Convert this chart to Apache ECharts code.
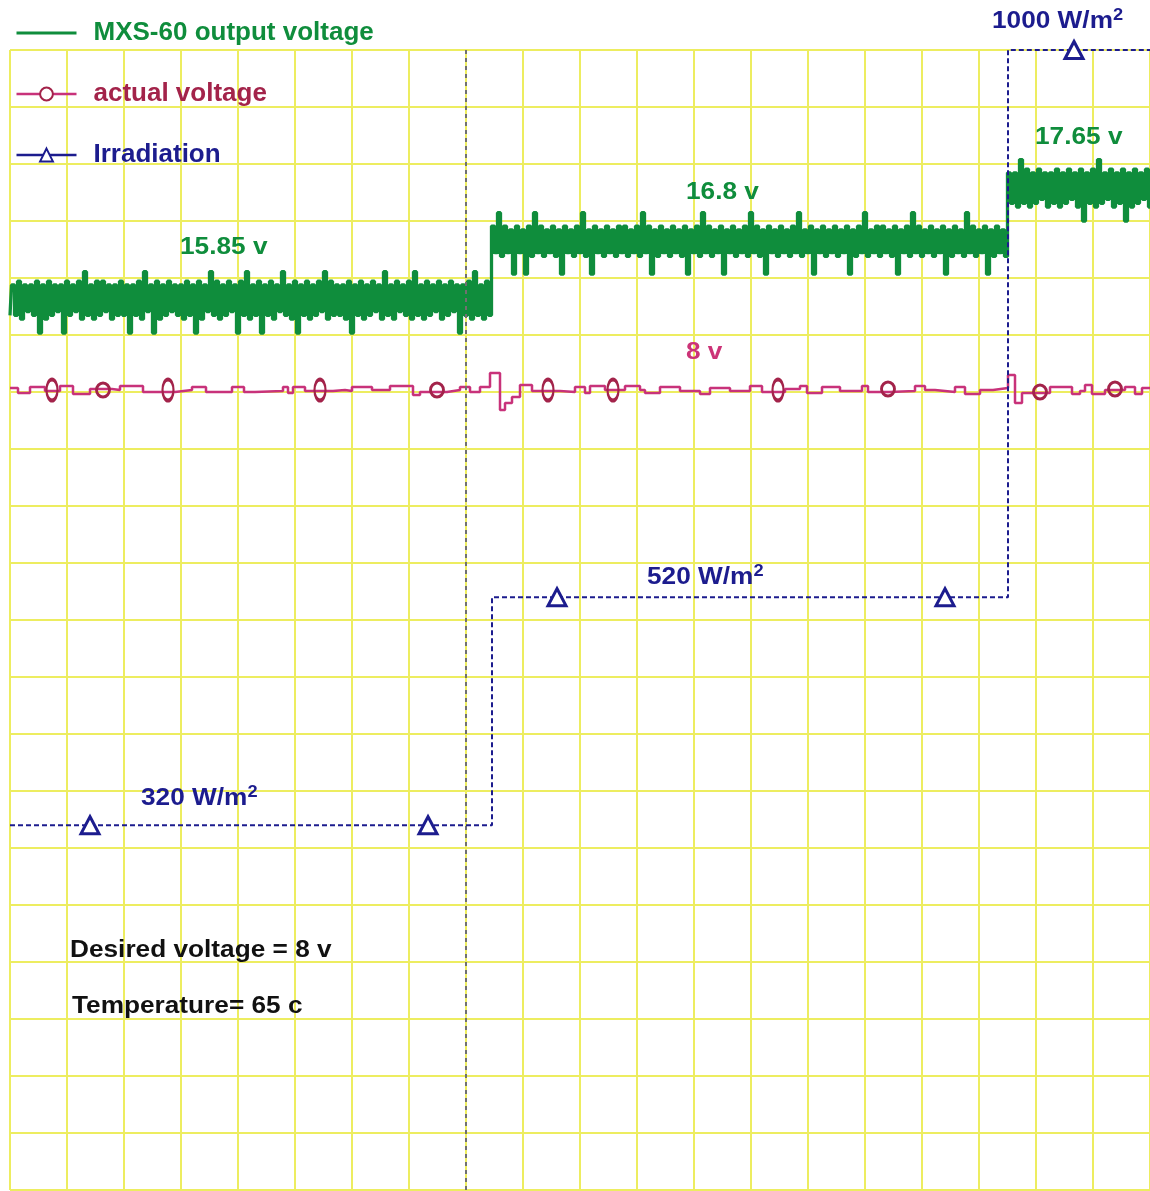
<!DOCTYPE html>
<html>
<head>
<meta charset="utf-8">
<script src="https://cdn.jsdelivr.net/npm/echarts@6/dist/echarts.min.js"></script>
<style>
html,body{margin:0;padding:0;background:#fff;}
#chart{width:1150px;height:1191px;}
</style>
</head>
<body>
<div id="chart"></div>
<script>
// ---------- data (x in screen-time units: 57 units per division, 20 divisions) ----------
const SERIES_NAMES = ['MXS-60 output voltage', 'actual voltage', 'Irradiation'];

// MXS-60 output voltage: three plateau levels (V) and where they change
const GREEN_LEVELS = [15.85, 16.78, 17.62];
const GREEN_CHANGE_X = [482, 998];
const GREEN_SAMPLE_STEP = 3;
// hand-read noise around each plateau, one char per sample (low/high alternating, D/U = spikes)
const GREEN_NOISE_CODES = { a: -0.30, b: -0.24, c: -0.18, x: 0.18, y: 0.24, z: 0.30, D: -0.52, U: 0.45 };
const GREEN_NOISE =
  'bybzaycybz' + 'DyazbycyDz' + 'byczaUbyaz' + 'bzcyaybzby' + 'DybzaUcyDz' +
  'aybzcybyaz' + 'byDzaycUbz' + 'aybzcyDzbU' + 'aybzDybzay' + 'cUbyazDybz' +
  'aybzcUazby' + 'byazDybzay' + 'bzcyaUbyaz' + 'cybzaUbyaz' + 'byczaybzcy' +
  'DybzaUbyaz' + 'bycUbycxDy' + 'cxDybUcybx' + 'cybxDycxby' + 'cUbxDycxby' +
  'cxbycybxcy' + 'bUcyDxbycx' + 'bycxbyDxcy' + 'bUcybxcyDx' + 'cybxcybUcy' +
  'bxDycxbycx' + 'bycUbxcyDx' + 'cybxcybxcy' + 'DxbycUbxcy' + 'bycxbyDxcy' +
  'bUcybxcybx' + 'cyDxbycxbU' + 'cybxcyDxby' + 'cxbybyaUbz' + 'aybzcyaybz' +
  'aybzcyazDy' + 'bzaUbyczay' + 'bzDyazbycz' + 'a';

// actual voltage (V): step trace [x, V]
const RED_TRACE = [
  [0, 8.02], [8, 7.97], [20, 8.03], [35, 7.99], [50, 8.04], [63, 7.96], [80, 8.01], [102, 8.0],
  [110, 8.04], [133, 7.98], [165, 8.0], [182, 8.03], [196, 7.98], [222, 8.03], [234, 7.98],
  [245, 7.99], [273, 8.03], [278, 7.97], [283, 8.03], [295, 7.99], [323, 8.0], [335, 7.99],
  [342, 8.03], [362, 8.0], [380, 8.04], [403, 7.95], [410, 7.98], [437, 8.0], [450, 8.03],
  [460, 7.98], [470, 8.03], [480, 8.17], [490, 7.80], [495, 7.87], [502, 7.93], [510, 8.05],
  [522, 7.99], [550, 7.98], [565, 8.03], [575, 7.97], [580, 8.04], [595, 8.0], [615, 8.04],
  [630, 8.0], [635, 7.97], [650, 8.03], [670, 7.99], [690, 7.96], [700, 8.02], [720, 7.99],
  [740, 8.04], [752, 7.98], [775, 8.01], [790, 8.04], [797, 7.97], [812, 8.03], [830, 7.99],
  [852, 8.04], [858, 7.98], [880, 7.99], [905, 8.04], [915, 8.0], [925, 7.98], [945, 8.03],
  [955, 7.96], [970, 8.0], [983, 8.02], [998, 8.15], [1005, 7.87], [1012, 7.97], [1040, 8.03],
  [1062, 7.96], [1070, 7.99], [1075, 8.05], [1082, 7.96], [1095, 8.0], [1115, 8.03],
  [1125, 7.96], [1132, 8.02], [1140, 8.02]
];
// marker positions on the actual-voltage trace: [x, V, tall?]
const RED_MARKERS = [
  [42, 8.0, 1], [93, 8.0, 0], [158, 8.0, 1], [310, 8.0, 1], [427, 8.0, 0], [538, 8.0, 1],
  [603, 8.0, 1], [768, 8.0, 1], [878, 8.01, 0], [1030, 7.98, 0], [1105, 8.01, 0]
];

// Irradiation (W/m^2): level changes and triangle marker points
const IRR_STEPS = [[0, 320], [482, 520], [998, 1000], [1140, 1000]];
const IRR_MARKERS = [[80, 320], [418, 320], [547, 520], [935, 520], [1064, 1000]];

// reference (trigger) line
const TRIGGER_X = 456;

// ---------- build series data ----------
const greenData = [];
for (let i = 0; i < GREEN_NOISE.length; i++) {
  const x = i * GREEN_SAMPLE_STEP;
  let lvl = GREEN_LEVELS[0];
  if (x >= GREEN_CHANGE_X[0]) lvl = GREEN_LEVELS[1];
  if (x >= GREEN_CHANGE_X[1]) lvl = GREEN_LEVELS[2];
  greenData.push([x, +(lvl + GREEN_NOISE_CODES[GREEN_NOISE[i]]).toFixed(3)]);
}

const redMarkerData = RED_MARKERS.map(m => ({ value: [m[0], m[1]], symbolSize: m[2] ? [11, 21] : [13, 14] }));

const irrAll = IRR_STEPS.map(p => ({ value: p, symbol: 'none' }))
  .concat(IRR_MARKERS.map(p => ({ value: p })))
  .sort((a, b) => a.value[0] - b.value[0]);

// ---------- colours ----------
const GREEN = '#0f8d3c';
const RED = '#c8327a';
const RED_DARK = '#a3234a';
const NAVY = '#1c1c8e';
const GRID_YELLOW = '#eded60';

const chart = echarts.init(document.getElementById('chart'), null, { renderer: 'canvas' });

const FONT = 'Liberation Sans, Arial, sans-serif';
function label(text, x, y, color, sup) {
  const t = sup ? text + '{s|' + sup + '}' : text;
  return {
    type: 'text', x: x, y: y, scaleX: 1.14, z: 100,
    style: {
      text: t, fill: color, font: 'bold 23px ' + FONT, verticalAlign: 'middle', align: 'left',
      rich: { s: { fill: color, fontSize: 16, fontWeight: 'bold', fontFamily: FONT, verticalAlign: 'top', lineHeight: 28 } }
    }
  };
}

chart.setOption({
  animation: false,
  backgroundColor: '#ffffff',
  grid: { left: 10, top: 50, width: 1140, height: 1140, containLabel: false },
  legend: {
    orient: 'vertical', left: 10, top: 15, itemWidth: 60, itemHeight: 16, itemGap: 35,
    selectedMode: false,
    textStyle: { fontSize: 26, fontWeight: 'bold', fontFamily: FONT, padding: [0, 0, 0, 12] },
    data: [
      { name: SERIES_NAMES[0], textStyle: { color: GREEN }, itemStyle: { opacity: 0 }, lineStyle: { width: 3 } },
      { name: SERIES_NAMES[1], textStyle: { color: RED_DARK }, lineStyle: { width: 2.5 } },
      { name: SERIES_NAMES[2], textStyle: { color: NAVY }, lineStyle: { type: 'solid', width: 2.5 } }
    ]
  },
  xAxis: {
    type: 'value', min: 0, max: 1140, interval: 57,
    axisLine: { show: false }, axisTick: { show: false }, axisLabel: { show: false },
    splitLine: { show: true, lineStyle: { color: GRID_YELLOW, width: 2 } }
  },
  yAxis: [
    { type: 'value', min: 0, max: 1000, interval: 50,
      axisLine: { show: false }, axisTick: { show: false }, axisLabel: { show: false },
      splitLine: { show: true, lineStyle: { color: GRID_YELLOW, width: 2 } } },
    { type: 'value', min: 1.8, max: 19.8, show: false, splitLine: { show: false } },
    { type: 'value', min: 0, max: 11.4, show: false, splitLine: { show: false } }
  ],
  series: [
    {
      name: SERIES_NAMES[0], type: 'line', yAxisIndex: 1, data: greenData, step: 'middle',
      symbol: 'none', lineStyle: { color: GREEN, width: 3.3 }, itemStyle: { color: GREEN }, z: 3,
      markLine: {
        silent: true, symbol: 'none', label: { show: false },
        lineStyle: { color: '#707070', type: [4, 4], width: 2 },
        data: [{ xAxis: TRIGGER_X }]
      }
    },
    {
      name: SERIES_NAMES[1], type: 'line', yAxisIndex: 2, data: RED_TRACE, step: 'end',
      symbol: 'emptyCircle', symbolSize: 10, showSymbol: false,
      lineStyle: { color: RED, width: 2.5 }, itemStyle: { color: RED_DARK }, z: 4
    },
    {
      name: SERIES_NAMES[1], type: 'scatter', yAxisIndex: 2, data: redMarkerData,
      symbol: 'circle',
      itemStyle: { color: 'rgba(255,255,255,0)', borderColor: RED_DARK, borderWidth: 3, opacity: 1 }, z: 5
    },
    {
      name: SERIES_NAMES[2], type: 'line', yAxisIndex: 0, data: irrAll, step: 'end',
      symbol: 'triangle', symbolSize: [18, 17], showAllSymbol: true,
      lineStyle: { color: NAVY, width: 2, type: [5, 3] },
      itemStyle: { color: '#ffffff', borderColor: NAVY, borderWidth: 3 }, z: 6
    }
  ],
  graphic: [
    label('15.85 v', 180, 248, GREEN),
    label('16.8 v', 686, 193, GREEN),
    label('17.65 v', 1035, 138, GREEN),
    label('8 v', 686, 353, '#cc3377'),
    label('1000 W/m', 992, 22, NAVY, '2'),
    label('520 W/m', 647, 578, NAVY, '2'),
    label('320 W/m', 141, 799, NAVY, '2'),
    label('Desired voltage = 8 v', 70, 951, '#111111'),
    label('Temperature= 65 c', 72, 1007, '#111111')
  ]
});
</script>
</body>
</html>
